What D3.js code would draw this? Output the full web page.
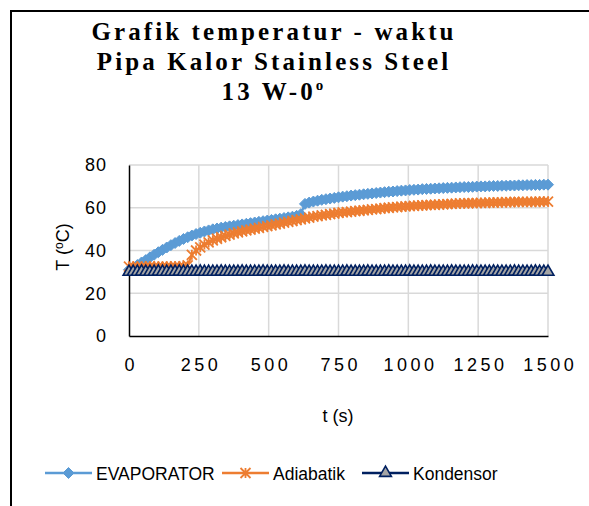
<!DOCTYPE html>
<html>
<head>
<meta charset="utf-8">
<script src="https://cdn.jsdelivr.net/npm/d3@7"></script>
<style>
  body { margin: 0; background: #fff; }
  svg { display: block; }
</style>
</head>
<body>
<svg id="chart" width="589" height="506"></svg>
<script>
// time (s), one reading every 15 s
const times = [0, 15, 30, 45, 60, 75, 90, 105, 120, 135, 150, 165, 180, 195, 210, 225, 240, 255, 270, 285,
  300, 315, 330, 345, 360, 375, 390, 405, 420, 435, 450, 465, 480, 495, 510, 525, 540, 555, 570, 585,
  600, 615, 630, 645, 660, 675, 690, 705, 720, 735, 750, 765, 780, 795, 810, 825, 840, 855, 870, 885,
  900, 915, 930, 945, 960, 975, 990, 1005, 1020, 1035, 1050, 1065, 1080, 1095, 1110, 1125, 1140, 1155, 1170, 1185,
  1200, 1215, 1230, 1245, 1260, 1275, 1290, 1305, 1320, 1335, 1350, 1365, 1380, 1395, 1410, 1425, 1440, 1455, 1470, 1485,
  1500]

const evaporator = [31, 32, 33.2, 34.4, 35.5, 36.8, 38, 39.2, 40.3, 41.4, 42.5, 43.5, 44.5, 45.4, 46.2, 47, 47.7, 48.3, 48.9, 49.4,
  49.9, 50.3, 50.7, 51, 51.3, 51.6, 51.9, 52.2, 52.5, 52.8, 53.1, 53.4, 53.7, 54, 54.3, 54.6, 54.9, 55.2, 55.5, 55.8,
  56.2, 57, 61.8, 62.4, 62.9, 63.3, 63.7, 64, 64.3, 64.6, 64.9, 65.2, 65.4, 65.7, 65.9, 66.1, 66.3, 66.5, 66.7, 66.9,
  67.1, 67.3, 67.5, 67.6, 67.8, 68, 68.1, 68.3, 68.4, 68.5, 68.7, 68.8, 68.9, 69, 69.1, 69.2, 69.3, 69.4, 69.5, 69.6,
  69.7, 69.7, 69.8, 69.9, 70, 70, 70.1, 70.2, 70.2, 70.3, 70.3, 70.4, 70.4, 70.5, 70.5, 70.6, 70.6, 70.7, 70.7, 70.8,
  70.8]

const adiabatik = [32.5, 32.5, 32.4, 32.5, 32.5, 32.6, 32.5, 32.5, 32.4, 32.5, 32.5, 32.6, 32.5, 32.6, 33, 38, 40, 41.5, 42.8, 43.8,
  44.7, 45.5, 46.2, 46.8, 47.4, 48, 48.5, 49, 49.4, 49.8, 50.2, 50.6, 51, 51.4, 51.8, 52.2, 52.6, 53, 53.4, 53.8,
  54.2, 54.6, 55, 55.4, 55.8, 56.1, 56.4, 56.7, 57, 57.3, 57.6, 57.8, 58, 58.2, 58.4, 58.6, 58.8, 59, 59.2, 59.4,
  59.6, 59.8, 60, 60.2, 60.3, 60.5, 60.6, 60.8, 60.9, 61, 61.1, 61.2, 61.3, 61.4, 61.5, 61.6, 61.7, 61.8, 61.9, 62,
  62, 62.1, 62.2, 62.2, 62.3, 62.3, 62.4, 62.4, 62.5, 62.5, 62.6, 62.6, 62.7, 62.7, 62.7, 62.8, 62.8, 62.8, 62.9, 62.9,
  62.9]

const kondensor = [30, 30, 30, 30.1, 30, 30, 30, 30.1, 30, 30, 30, 30, 30.1, 30, 30, 30, 30, 30.1, 30, 30,
  30, 30, 30.1, 30, 30, 30, 30, 30.1, 30, 30, 30, 30, 30.1, 30, 30, 30, 30, 30.1, 30, 30,
  30, 30, 30.1, 30, 30, 30, 30, 30.1, 30, 30, 30, 30, 30.1, 30, 30, 30, 30, 30.1, 30, 30,
  30, 30, 30.1, 30, 30, 30, 30, 30.1, 30, 30, 30, 30, 30.1, 30, 30, 30, 30, 30.1, 30, 30,
  30, 30, 30.1, 30, 30, 30, 30, 30.1, 30, 30, 30, 30, 30.1, 30, 30, 30, 30, 30.1, 30, 30,
  30]

const xTicks = [0, 250, 500, 750, 1000, 1250, 1500]
const yTicks = [0, 20, 40, 60, 80]
const titleLines = ["Grafik temperatur - waktu", "Pipa Kalor Stainless Steel", "13 W-0"]
const seriesNames = ["EVAPORATOR", "Adiabatik", "Kondensor"]

const svg = d3.select("#chart")
const plot = {left: 129, right: 548, top: 165, bottom: 336}
const sans = "'Liberation Sans', Arial, sans-serif"

// chart frame (only left and top edges fall inside the picture)
svg.append("rect")
    .attr("x", 11).attr("y", 11)
    .attr("width", 620).attr("height", 540)
    .attr("fill", "none").attr("stroke", "#000").attr("stroke-width", 2)

const x = d3.scaleLinear().domain([0, 1500]).range([plot.left, plot.right])
const y = d3.scaleLinear().domain([0, 80]).range([plot.bottom, plot.top])

// gridlines
svg.append("g")
    .selectAll("line")
    .data(xTicks.slice(1))
    .join("line")
        .attr("x1", d => x(d)).attr("x2", d => x(d))
        .attr("y1", plot.top).attr("y2", plot.bottom)
        .attr("stroke", "#d9d9d9").attr("stroke-width", 1.5)
svg.append("g")
    .selectAll("line")
    .data(yTicks.slice(1))
    .join("line")
        .attr("x1", plot.left).attr("x2", plot.right)
        .attr("y1", d => y(d)).attr("y2", d => y(d))
        .attr("stroke", "#d9d9d9").attr("stroke-width", 1.5)

// axes
const xAxis = g => g
    .attr("transform", `translate(0, ${plot.bottom})`)
    .call(d3.axisBottom(x).tickValues(xTicks).tickFormat(d3.format("d")).tickSize(0).tickPadding(22))
    .call(g => g.select(".domain").attr("stroke", "#000").attr("stroke-width", 1.5))
    .call(g => g.selectAll("text")
        .attr("font-family", sans).attr("font-size", 18)
        .attr("letter-spacing", 3.5).attr("dx", 1.75).attr("fill", "#000"))
const yAxis = g => g
    .attr("transform", `translate(${plot.left}, 0)`)
    .call(d3.axisLeft(y).tickValues(yTicks).tickSize(0).tickPadding(22))
    .call(g => g.select(".domain").attr("stroke", "#000").attr("stroke-width", 1.5))
    .call(g => g.selectAll("text")
        .attr("font-family", sans).attr("font-size", 18)
        .attr("letter-spacing", 1).attr("fill", "#000"))

svg.append("g").call(xAxis)
svg.append("g").call(yAxis)

// axis titles
svg.append("text")
    .attr("x", 338).attr("y", 422)
    .attr("text-anchor", "middle")
    .attr("font-family", sans).attr("font-size", 18)
    .text("t (s)")

const yTitle = svg.append("text")
    .attr("transform", "translate(69, 247) rotate(-90)")
    .attr("text-anchor", "middle")
    .attr("font-family", sans).attr("font-size", 18)
yTitle.append("tspan").text("T (")
yTitle.append("tspan").attr("font-size", 12).attr("dy", -6).text("o")
yTitle.append("tspan").attr("dy", 6).text("C)")

// chart title
const title = svg.append("g")
    .attr("font-family", "'Liberation Serif', 'Times New Roman', serif")
    .attr("font-weight", "bold").attr("font-size", 25)
    .attr("letter-spacing", 3.1)
    .attr("text-anchor", "middle")
title.selectAll("text")
    .data(titleLines)
    .join("text")
        .attr("x", 274)
        .attr("y", (d, i) => 40 + i * 30)
        .text(d => d)
title.select("text:last-child")
    .append("tspan").attr("font-size", 15).attr("dy", -10).text("o")

// markers
const starPath = s => {
    const r = s / 2
    return `M${-r},${-r}L${r},${r}M${-r},${r}L${r},${-r}M0,${-r}L0,${r}`
}
const diamondPath = s => {
    const r = s / 2
    return `M0,${-r}L${r},0L0,${r}L${-r},0Z`
}
const series = [
    {name: seriesNames[0], values: evaporator, color: "#5b9bd5",
        marker: g => g.append("path").attr("d", diamondPath(11))
            .attr("fill", "#5b9bd5").attr("stroke", "#5b9bd5").attr("stroke-width", 1)},
    {name: seriesNames[1], values: adiabatik, color: "#ed7d31",
        marker: g => g.append("path").attr("d", starPath(10))
            .attr("fill", "none").attr("stroke", "#ed7d31").attr("stroke-width", 1.8)},
    {name: seriesNames[2], values: kondensor, color: "#002060",
        marker: g => g.append("path").attr("d", d3.symbol(d3.symbolTriangle, 60)())
            .attr("fill", "#a5a5a5").attr("stroke", "#002060").attr("stroke-width", 1.6)}
]

const line = d3.line().x(d => x(d[0])).y(d => y(d[1]))

series.forEach(s => {
    const pts = times.map((t, i) => [t, s.values[i]])
    svg.append("path")
        .datum(pts)
        .attr("d", line)
        .attr("fill", "none")
        .attr("stroke", s.color).attr("stroke-width", 2.25)
    svg.append("g")
        .selectAll("g")
        .data(pts)
        .join("g")
            .attr("transform", d => `translate(${x(d[0])}, ${y(d[1])})`)
            .each(function() { s.marker(d3.select(this)) })
})

// legend
const legendX = [45, 222, 362]
const legend = svg.append("g")
    .selectAll("g")
    .data(series)
    .join("g")
        .attr("transform", (d, i) => `translate(${legendX[i]}, 473)`)
legend.append("line")
    .attr("x1", 0).attr("x2", 47)
    .attr("stroke", d => d.color).attr("stroke-width", 2.5)
legend.append("g")
    .attr("transform", "translate(23.5, 0)")
    .each(function(d) { d.marker(d3.select(this)) })
legend.append("text")
    .attr("x", 51).attr("y", 6.5)
    .attr("font-family", sans).attr("font-size", 17.5)
    .text(d => d.name)
</script>
</body>
</html>
